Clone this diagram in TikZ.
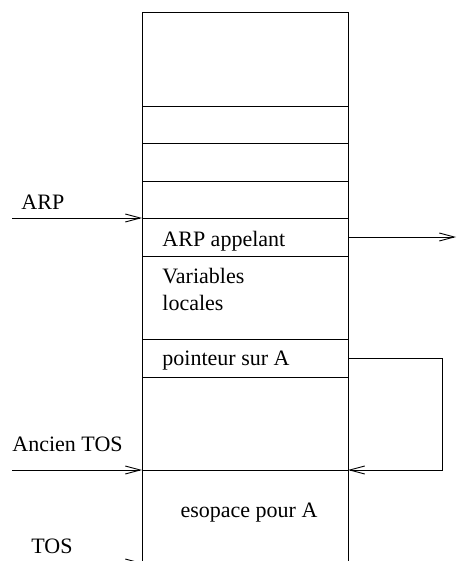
\documentclass[tikz,border=0pt]{standalone}
\usepackage{fontspec}
\setmainfont{Liberation Serif}
\usetikzlibrary{arrows.meta}
\begin{document}
\begin{tikzpicture}[x=1pt,y=-1pt,line width=0.9pt,
  lbl/.style={anchor=base west,inner sep=0pt,font=\fontsize{22}{26}\selectfont},
  ptr/.style={-{Straight Barb[length=15pt,width=8pt,line width=0.9pt]}}]
\useasboundingbox (0,0) rectangle (456,561);
% activation record: open at the bottom
\draw (142,561) -- (142,12) -- (348,12) -- (348,561);
\foreach \y in {106,143,181,218,256,339,377,470}
  \draw (142,\y) -- (348,\y);
% cell contents
\node[lbl] (appelant) at (162,246) {ARP appelant};
\node[lbl] (var) at (162,283) {Variables};
\node[lbl] (loc) at (162,310) {locales};
\node[lbl] (ptrA) at (162,365) {pointeur sur A};
\node[lbl,anchor=base] (espace) at (249,517) {esopace pour A};
% outside labels
\node[lbl] (arp) at (21,209) {ARP};
\node[lbl] (ancien) at (12,451) {Ancien TOS};
\node[lbl] (tos) at (31,553) {TOS};
% arrow end points
\coordinate (arpS) at (12,218);
\coordinate (arpE) at (142,218);
\coordinate (callS) at (348,237);
\coordinate (callE) at (456,237);
\coordinate (ancS) at (12,470);
\coordinate (ancE) at (142,470);
\coordinate (tosS) at (12,563);
\coordinate (tosE) at (142,563);
\coordinate (pS) at (348,358);
\coordinate (pC1) at (442,358);
\coordinate (pC2) at (442,470);
\coordinate (pE) at (348,470);
% pointers
\draw[ptr] (arpS) -- (arpE);
\draw[ptr] (callS) -- (callE);
\draw[ptr] (ancS) -- (ancE);
\draw[ptr] (tosS) -- (tosE);
\draw[ptr] (pS) -- (pC1) -- (pC2) -- (pE);
\end{tikzpicture}
\end{document}
